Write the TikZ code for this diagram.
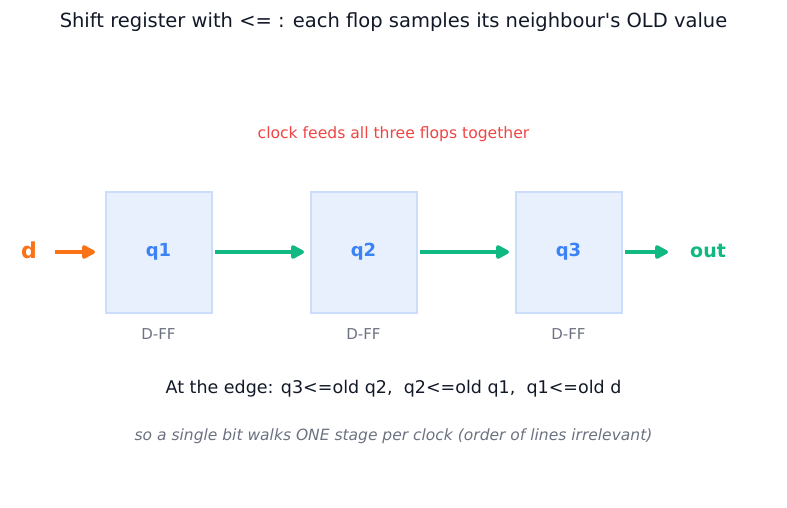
\documentclass[tikz,border=0pt]{standalone}
\usepackage{fontspec}
\setmainfont{DejaVu Sans}
\usetikzlibrary{arrows.meta}

\definecolor{ffblue}{HTML}{3B82F6}
\definecolor{fffill}{HTML}{E8F0FD}
\definecolor{ffline}{HTML}{CCDDFB}
\definecolor{dorange}{HTML}{F97316}
\definecolor{outgreen}{HTML}{10B981}
\definecolor{clkred}{HTML}{EF4444}
\definecolor{notegray}{HTML}{6B7280}
\definecolor{titleblack}{HTML}{111827}

\begin{document}
\begin{tikzpicture}[
    x=1pt, y=-1pt,
    flop/.style={
        rectangle, draw=ffline, fill=fffill, line width=2pt,
        minimum width=106pt, minimum height=121pt,
        font=\fontsize{18}{20}\selectfont\bfseries, text=ffblue
    },
    port/.style={font=\fontsize{19}{22}\selectfont\bfseries, inner sep=0pt},
    caption/.style={font=\fontsize{15}{18}\selectfont, text=notegray},
    flow/.style={-{Triangle[length=15pt, width=15pt, round]}, line width=3.5pt},
    every node/.style={text=titleblack}
]
\useasboundingbox (0,0) rectangle (787,507);

% Title
\node[font=\fontsize{19.5}{22}\selectfont] (title) at (393.5,22) {Shift register with <= : each flop samples its neighbour\textquotesingle s OLD value};
\node[font=\fontsize{15.6}{18}\selectfont, text=clkred] (clock) at (393.5,134) {clock feeds all three flops together};

% Flops
\node[flop] (q1) at (158.5,252) {q1};
\node[flop] (q2) at (363.5,252) {q2};
\node[flop] (q3) at (568.5,252) {q3};
\node[caption] (ff1) at (158.5,334) {D-FF};
\node[caption] (ff2) at (363.5,334) {D-FF};
\node[caption] (ff3) at (568.5,334) {D-FF};

% Ports
\node[port, font=\fontsize{22}{24}\selectfont\bfseries, text=dorange] (d) at (29,250) {d};
\node[port, text=outgreen, anchor=west] (out) at (690,251) {out};

% Arrows
\draw[flow, dorange, shorten <=18pt, shorten >=9.5pt] (d.east |- q1.west) -- (q1.west);
\draw[flow, outgreen, shorten <=2.5pt, shorten >=5.5pt] (q1) -- (q2);
\draw[flow, outgreen, shorten <=2.5pt, shorten >=5.5pt] (q2) -- (q3);
\draw[flow, outgreen, shorten <=2.5pt, shorten >=22pt] (q3.east) -- (q3.east -| out.west);

% Notes
\node[font=\fontsize{17.5}{20}\selectfont] (edge) at (393.5,389) {At the edge: q3<=old q2,\ \ q2<=old q1,\ \ q1<=old d};
\node[caption, font=\fontsize{15.5}{18}\selectfont\itshape] (walk) at (393.5,436) {so a single bit walks ONE stage per clock (order of lines irrelevant)};

\end{tikzpicture}
\end{document}
